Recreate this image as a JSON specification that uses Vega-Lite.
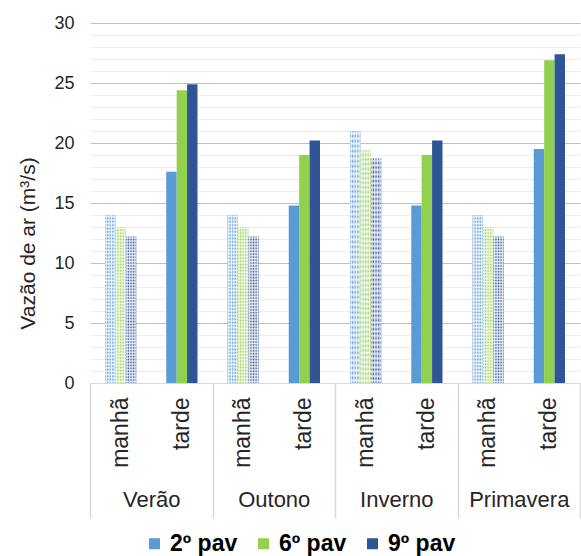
{
  "$schema": "https://vega.github.io/schema/vega-lite/v6.json",
  "autosize": {"type": "none"},
  "padding": {"left": 90, "top": 23, "right": 1, "bottom": 173},
  "width": 490,
  "height": 360,
  "config": {
    "font": "Liberation Sans",
    "view": {"stroke": null},
    "axis": {"labelColor": "#262626", "titleColor": "#262626", "labelFont": "Liberation Sans", "titleFont": "Liberation Sans"},
    "legend": {"labelFont": "Liberation Sans"}
  },
  "data": {
    "values": [
      {"season": "Verão", "period": "manhã", "pav": "2º pav", "value": 14.0},
      {"season": "Verão", "period": "manhã", "pav": "6º pav", "value": 13.0},
      {"season": "Verão", "period": "manhã", "pav": "9º pav", "value": 12.2},
      {"season": "Verão", "period": "tarde", "pav": "2º pav", "value": 17.6},
      {"season": "Verão", "period": "tarde", "pav": "6º pav", "value": 24.4},
      {"season": "Verão", "period": "tarde", "pav": "9º pav", "value": 24.9},
      {"season": "Outono", "period": "manhã", "pav": "2º pav", "value": 14.0},
      {"season": "Outono", "period": "manhã", "pav": "6º pav", "value": 13.0},
      {"season": "Outono", "period": "manhã", "pav": "9º pav", "value": 12.2},
      {"season": "Outono", "period": "tarde", "pav": "2º pav", "value": 14.8},
      {"season": "Outono", "period": "tarde", "pav": "6º pav", "value": 19.0},
      {"season": "Outono", "period": "tarde", "pav": "9º pav", "value": 20.2},
      {"season": "Inverno", "period": "manhã", "pav": "2º pav", "value": 21.0},
      {"season": "Inverno", "period": "manhã", "pav": "6º pav", "value": 19.4},
      {"season": "Inverno", "period": "manhã", "pav": "9º pav", "value": 18.7},
      {"season": "Inverno", "period": "tarde", "pav": "2º pav", "value": 14.8},
      {"season": "Inverno", "period": "tarde", "pav": "6º pav", "value": 19.0},
      {"season": "Inverno", "period": "tarde", "pav": "9º pav", "value": 20.2},
      {"season": "Primavera", "period": "manhã", "pav": "2º pav", "value": 14.0},
      {"season": "Primavera", "period": "manhã", "pav": "6º pav", "value": 13.0},
      {"season": "Primavera", "period": "manhã", "pav": "9º pav", "value": 12.2},
      {"season": "Primavera", "period": "tarde", "pav": "2º pav", "value": 19.5},
      {"season": "Primavera", "period": "tarde", "pav": "6º pav", "value": 26.9},
      {"season": "Primavera", "period": "tarde", "pav": "9º pav", "value": 27.4}
    ]
  },
  "transform": [{"calculate": "datum.season + '|' + datum.period", "as": "key"}],
  "layer": [
    {
      "encoding": {
        "x": {
          "field": "key", "type": "nominal",
          "scale": {"domain": ["Verão|manhã", "Verão|tarde", "Outono|manhã", "Outono|tarde", "Inverno|manhã", "Inverno|tarde", "Primavera|manhã", "Primavera|tarde"], "paddingInner": 0.49, "paddingOuter": 0.245},
          "axis": {"orient": "bottom", "title": null, "ticks": false, "domain": true, "domainColor": "#D9D9D9", "grid": false, "labelAngle": 270, "labelPadding": 14, "labelFontSize": 23, "labelExpr": "split(datum.value, '|')[1]"}
        },
        "xOffset": {"field": "pav", "type": "nominal", "scale": {"domain": ["2º pav", "6º pav", "9º pav"], "paddingInner": 0, "paddingOuter": 0}},
        "y": {
          "field": "value", "type": "quantitative",
          "scale": {"domain": [0, 30], "nice": false},
          "axis": {
            "values": [0,1,2,3,4,5,6,7,8,9,10,11,12,13,14,15,16,17,18,19,20,21,22,23,24,25,26,27,28,29,30],
            "labelExpr": "datum.value % 5 === 0 ? datum.label : ''",
            "gridColor": {"condition": {"test": "datum.value % 5 === 0", "value": "#BFBFBF"}, "value": "#EDEDED"},
            "ticks": false, "domain": false, "labelPadding": 16, "labelFontSize": 18,
            "title": "Vazão de ar (m³/s)", "titleFontSize": 21, "titleFontWeight": "normal", "titlePadding": 15, "titleY": 220
          }
        }
      },
      "layer": [
        {
          "mark": {"type": "bar"},
          "encoding": {
            "fill": {
              "condition": [
                {"test": "datum.period == 'manhã' && datum.pav == '2º pav'", "value": {"gradient": "linear", "x1": 0, "y1": 0, "x2": 1, "y2": 0, "stops": [
                  {"offset": 0, "color": "#5B9BD5"}, {"offset": 0.125, "color": "#E4EEF8"}, {"offset": 0.25, "color": "#5B9BD5"}, {"offset": 0.375, "color": "#E4EEF8"}, {"offset": 0.5, "color": "#5B9BD5"}, {"offset": 0.625, "color": "#E4EEF8"}, {"offset": 0.75, "color": "#5B9BD5"}, {"offset": 0.875, "color": "#E4EEF8"}, {"offset": 1, "color": "#5B9BD5"}]}},
                {"test": "datum.period == 'manhã' && datum.pav == '6º pav'", "value": {"gradient": "linear", "x1": 0, "y1": 0, "x2": 1, "y2": 0, "stops": [
                  {"offset": 0, "color": "#92D050"}, {"offset": 0.125, "color": "#EEF8E4"}, {"offset": 0.25, "color": "#92D050"}, {"offset": 0.375, "color": "#EEF8E4"}, {"offset": 0.5, "color": "#92D050"}, {"offset": 0.625, "color": "#EEF8E4"}, {"offset": 0.75, "color": "#92D050"}, {"offset": 0.875, "color": "#EEF8E4"}, {"offset": 1, "color": "#92D050"}]}},
                {"test": "datum.period == 'manhã' && datum.pav == '9º pav'", "value": {"gradient": "linear", "x1": 0, "y1": 0, "x2": 1, "y2": 0, "stops": [
                  {"offset": 0, "color": "#2F5597"}, {"offset": 0.125, "color": "#DDE3EE"}, {"offset": 0.25, "color": "#2F5597"}, {"offset": 0.375, "color": "#DDE3EE"}, {"offset": 0.5, "color": "#2F5597"}, {"offset": 0.625, "color": "#DDE3EE"}, {"offset": 0.75, "color": "#2F5597"}, {"offset": 0.875, "color": "#DDE3EE"}, {"offset": 1, "color": "#2F5597"}]}}
              ],
              "field": "pav", "type": "nominal",
              "scale": {"domain": ["2º pav", "6º pav", "9º pav"], "range": ["#5B9BD5", "#92D050", "#2F5597"]},
              "legend": {"orient": "none", "legendX": 53, "legendY": 509, "direction": "horizontal", "columns": 3, "title": null, "symbolType": "square", "symbolSize": 121, "symbolStrokeWidth": 0, "labelFontSize": 23, "labelFontWeight": "bold", "labelColor": "#000000", "columnPadding": 14, "labelOffset": 4}
            }
          }
        },
        {
          "mark": {"type": "bar"},
          "encoding": {
            "fill": {
              "condition": {"test": "datum.period == 'manhã'", "value": {"gradient": "linear", "x1": 0, "y1": 0, "x2": 0, "y2": 1, "stops": [
                {"offset": 0, "color": "rgba(255,255,255,0)"}, {"offset": 0.01, "color": "rgba(255,255,255,0.8)"}, {"offset": 0.02, "color": "rgba(255,255,255,0)"}, {"offset": 0.03, "color": "rgba(255,255,255,0.8)"}, {"offset": 0.04, "color": "rgba(255,255,255,0)"}, {"offset": 0.05, "color": "rgba(255,255,255,0.8)"}, {"offset": 0.06, "color": "rgba(255,255,255,0)"}, {"offset": 0.07, "color": "rgba(255,255,255,0.8)"}, {"offset": 0.08, "color": "rgba(255,255,255,0)"}, {"offset": 0.09, "color": "rgba(255,255,255,0.8)"},
                {"offset": 0.1, "color": "rgba(255,255,255,0)"}, {"offset": 0.11, "color": "rgba(255,255,255,0.8)"}, {"offset": 0.12, "color": "rgba(255,255,255,0)"}, {"offset": 0.13, "color": "rgba(255,255,255,0.8)"}, {"offset": 0.14, "color": "rgba(255,255,255,0)"}, {"offset": 0.15, "color": "rgba(255,255,255,0.8)"}, {"offset": 0.16, "color": "rgba(255,255,255,0)"}, {"offset": 0.17, "color": "rgba(255,255,255,0.8)"}, {"offset": 0.18, "color": "rgba(255,255,255,0)"}, {"offset": 0.19, "color": "rgba(255,255,255,0.8)"},
                {"offset": 0.2, "color": "rgba(255,255,255,0)"}, {"offset": 0.21, "color": "rgba(255,255,255,0.8)"}, {"offset": 0.22, "color": "rgba(255,255,255,0)"}, {"offset": 0.23, "color": "rgba(255,255,255,0.8)"}, {"offset": 0.24, "color": "rgba(255,255,255,0)"}, {"offset": 0.25, "color": "rgba(255,255,255,0.8)"}, {"offset": 0.26, "color": "rgba(255,255,255,0)"}, {"offset": 0.27, "color": "rgba(255,255,255,0.8)"}, {"offset": 0.28, "color": "rgba(255,255,255,0)"}, {"offset": 0.29, "color": "rgba(255,255,255,0.8)"},
                {"offset": 0.3, "color": "rgba(255,255,255,0)"}, {"offset": 0.31, "color": "rgba(255,255,255,0.8)"}, {"offset": 0.32, "color": "rgba(255,255,255,0)"}, {"offset": 0.33, "color": "rgba(255,255,255,0.8)"}, {"offset": 0.34, "color": "rgba(255,255,255,0)"}, {"offset": 0.35, "color": "rgba(255,255,255,0.8)"}, {"offset": 0.36, "color": "rgba(255,255,255,0)"}, {"offset": 0.37, "color": "rgba(255,255,255,0.8)"}, {"offset": 0.38, "color": "rgba(255,255,255,0)"}, {"offset": 0.39, "color": "rgba(255,255,255,0.8)"},
                {"offset": 0.4, "color": "rgba(255,255,255,0)"}, {"offset": 0.41, "color": "rgba(255,255,255,0.8)"}, {"offset": 0.42, "color": "rgba(255,255,255,0)"}, {"offset": 0.43, "color": "rgba(255,255,255,0.8)"}, {"offset": 0.44, "color": "rgba(255,255,255,0)"}, {"offset": 0.45, "color": "rgba(255,255,255,0.8)"}, {"offset": 0.46, "color": "rgba(255,255,255,0)"}, {"offset": 0.47, "color": "rgba(255,255,255,0.8)"}, {"offset": 0.48, "color": "rgba(255,255,255,0)"}, {"offset": 0.49, "color": "rgba(255,255,255,0.8)"},
                {"offset": 0.5, "color": "rgba(255,255,255,0)"}, {"offset": 0.51, "color": "rgba(255,255,255,0.8)"}, {"offset": 0.52, "color": "rgba(255,255,255,0)"}, {"offset": 0.53, "color": "rgba(255,255,255,0.8)"}, {"offset": 0.54, "color": "rgba(255,255,255,0)"}, {"offset": 0.55, "color": "rgba(255,255,255,0.8)"}, {"offset": 0.56, "color": "rgba(255,255,255,0)"}, {"offset": 0.57, "color": "rgba(255,255,255,0.8)"}, {"offset": 0.58, "color": "rgba(255,255,255,0)"}, {"offset": 0.59, "color": "rgba(255,255,255,0.8)"},
                {"offset": 0.6, "color": "rgba(255,255,255,0)"}, {"offset": 0.61, "color": "rgba(255,255,255,0.8)"}, {"offset": 0.62, "color": "rgba(255,255,255,0)"}, {"offset": 0.63, "color": "rgba(255,255,255,0.8)"}, {"offset": 0.64, "color": "rgba(255,255,255,0)"}, {"offset": 0.65, "color": "rgba(255,255,255,0.8)"}, {"offset": 0.66, "color": "rgba(255,255,255,0)"}, {"offset": 0.67, "color": "rgba(255,255,255,0.8)"}, {"offset": 0.68, "color": "rgba(255,255,255,0)"}, {"offset": 0.69, "color": "rgba(255,255,255,0.8)"},
                {"offset": 0.7, "color": "rgba(255,255,255,0)"}, {"offset": 0.71, "color": "rgba(255,255,255,0.8)"}, {"offset": 0.72, "color": "rgba(255,255,255,0)"}, {"offset": 0.73, "color": "rgba(255,255,255,0.8)"}, {"offset": 0.74, "color": "rgba(255,255,255,0)"}, {"offset": 0.75, "color": "rgba(255,255,255,0.8)"}, {"offset": 0.76, "color": "rgba(255,255,255,0)"}, {"offset": 0.77, "color": "rgba(255,255,255,0.8)"}, {"offset": 0.78, "color": "rgba(255,255,255,0)"}, {"offset": 0.79, "color": "rgba(255,255,255,0.8)"},
                {"offset": 0.8, "color": "rgba(255,255,255,0)"}, {"offset": 0.81, "color": "rgba(255,255,255,0.8)"}, {"offset": 0.82, "color": "rgba(255,255,255,0)"}, {"offset": 0.83, "color": "rgba(255,255,255,0.8)"}, {"offset": 0.84, "color": "rgba(255,255,255,0)"}, {"offset": 0.85, "color": "rgba(255,255,255,0.8)"}, {"offset": 0.86, "color": "rgba(255,255,255,0)"}, {"offset": 0.87, "color": "rgba(255,255,255,0.8)"}, {"offset": 0.88, "color": "rgba(255,255,255,0)"}, {"offset": 0.89, "color": "rgba(255,255,255,0.8)"},
                {"offset": 0.9, "color": "rgba(255,255,255,0)"}, {"offset": 0.91, "color": "rgba(255,255,255,0.8)"}, {"offset": 0.92, "color": "rgba(255,255,255,0)"}, {"offset": 0.93, "color": "rgba(255,255,255,0.8)"}, {"offset": 0.94, "color": "rgba(255,255,255,0)"}, {"offset": 0.95, "color": "rgba(255,255,255,0.8)"}, {"offset": 0.96, "color": "rgba(255,255,255,0)"}, {"offset": 0.97, "color": "rgba(255,255,255,0.8)"}, {"offset": 0.98, "color": "rgba(255,255,255,0)"}, {"offset": 0.99, "color": "rgba(255,255,255,0.8)"},
                {"offset": 1, "color": "rgba(255,255,255,0)"}
              ]}},
              "value": null
            }
          }
        }
      ]
    },
    {
      "mark": {"type": "rule", "opacity": 0},
      "encoding": {
        "x": {
          "field": "season", "type": "nominal",
          "scale": {"domain": ["Verão", "Outono", "Inverno", "Primavera"], "paddingInner": 0, "paddingOuter": 0},
          "axis": {"orient": "bottom", "title": null, "domain": false, "grid": false, "ticks": true, "tickBand": "extent", "tickSize": 135, "tickColor": "#D9D9D9", "tickWidth": 1.5, "labelAngle": 0, "labelPadding": -29, "labelFontSize": 22, "labelBaseline": "top"}
        }
      }
    }
  ],
  "resolve": {"scale": {"x": "independent"}, "axis": {"x": "independent"}}
}
